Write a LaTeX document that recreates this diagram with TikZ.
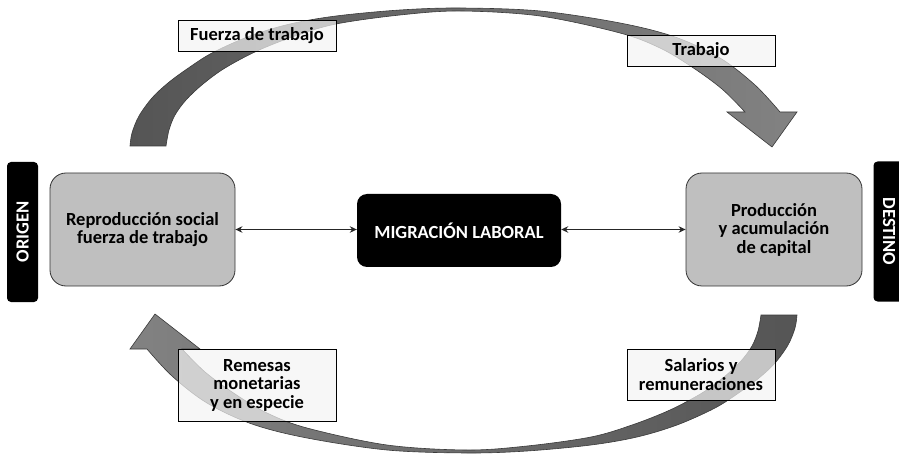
\documentclass[tikz,border=0pt]{standalone}
\usepackage{fontspec}
\setmainfont{Carlito}
\usetikzlibrary{arrows.meta}
\definecolor{boxgray}{HTML}{BFBFBF}
\definecolor{arrdark}{HTML}{555555}
\definecolor{arrlight}{HTML}{828282}
\definecolor{arredge}{HTML}{3A3A3A}
\definecolor{labelfill}{HTML}{F4F4F4}
\newcommand\arcpath{(130,146) -- plot[smooth,tension=0.55] coordinates {(130,146) (132,133) (139,116) (152,98) (168,83) (187,69) (212,53) (250,36) (290,24) (336,16) (400,10) (460,8) (540,11) (620,23) (675,37) (720,58) (755,85) (780,112)} -- (797,112) -- (772,147) -- (727,112) -- (745,112) -- plot[smooth,tension=0.55] coordinates {(745,112) (722,89) (692,67) (660,48) (620,33) (540,16) (460,11) (400,15) (336,24) (295,36) (257,51) (225,68) (203,84) (186,100) (175,115) (169,130) (166,146)} -- cycle}
\begin{document}
\begin{tikzpicture}[x=1pt,y=-1pt,font=\bfseries\fontsize{18.5}{18.5}\selectfont,
  lbl/.style={draw=black, line width=0.8pt, fill=labelfill, fill opacity=0.7, text opacity=1, align=center, inner sep=0pt},
  grbox/.style={draw=black!80, line width=0.8pt, fill=boxgray, rounded corners=16pt, align=center, inner sep=0pt},
  blk/.style={fill=black, text=white, rounded corners=10pt, inner sep=0pt},
  side/.style={fill=black, text=white, rounded corners=4pt, inner sep=0pt, minimum width=140pt, minimum height=31pt},
  link/.style={{Stealth[length=7pt,width=6.5pt]}-{Stealth[length=7pt,width=6.5pt]}, line width=1.3pt, draw=black!85},
  arc/.style={draw=arredge, line width=0.6pt}]
\useasboundingbox (0,0) rectangle (899,454);
% curved arrows
\shadedraw[arc, left color=arrdark, right color=arrlight] \arcpath;
\begin{scope}[rotate around={180:(463.5,230.5)}]
\shadedraw[arc, left color=arrlight, right color=arrdark] \arcpath;
\end{scope}
% side bars
\node[side, rotate=90] (origen) at (22.5,232) {ORIGEN};
\node[side, rotate=-90] (destino) at (889,231.5) {DESTINO};
% main boxes
\node[grbox, minimum width=185pt, minimum height=113pt] (repro) at (142.5,229.5) {Reproducción social\\fuerza de trabajo};
\node[blk, minimum width=204pt, minimum height=73pt] (mig) at (459,230.5) {MIGRACIÓN LABORAL};
\node[grbox, minimum width=176pt, minimum height=113pt] (prod) at (774,229.5) {Producción\\y acumulación\\de capital};
\draw[link] (repro.east) -- (repro.east -| mig.west);
\draw[link] (mig.east |- prod.west) -- (prod.west);
% labels
\node[lbl, minimum width=158pt, minimum height=31pt] (fuerza) at (257,35.5) {Fuerza de trabajo};
\node[lbl, minimum width=148pt, minimum height=31pt] (trab) at (701,50.5) {Trabajo};
\node[lbl, minimum width=158pt, minimum height=72pt] (rem) at (257,385) {Remesas\\monetarias\\y en especie};
\node[lbl, minimum width=148pt, minimum height=51pt] (sal) at (701,374.5) {Salarios y\\remuneraciones};
\end{tikzpicture}
\end{document}
